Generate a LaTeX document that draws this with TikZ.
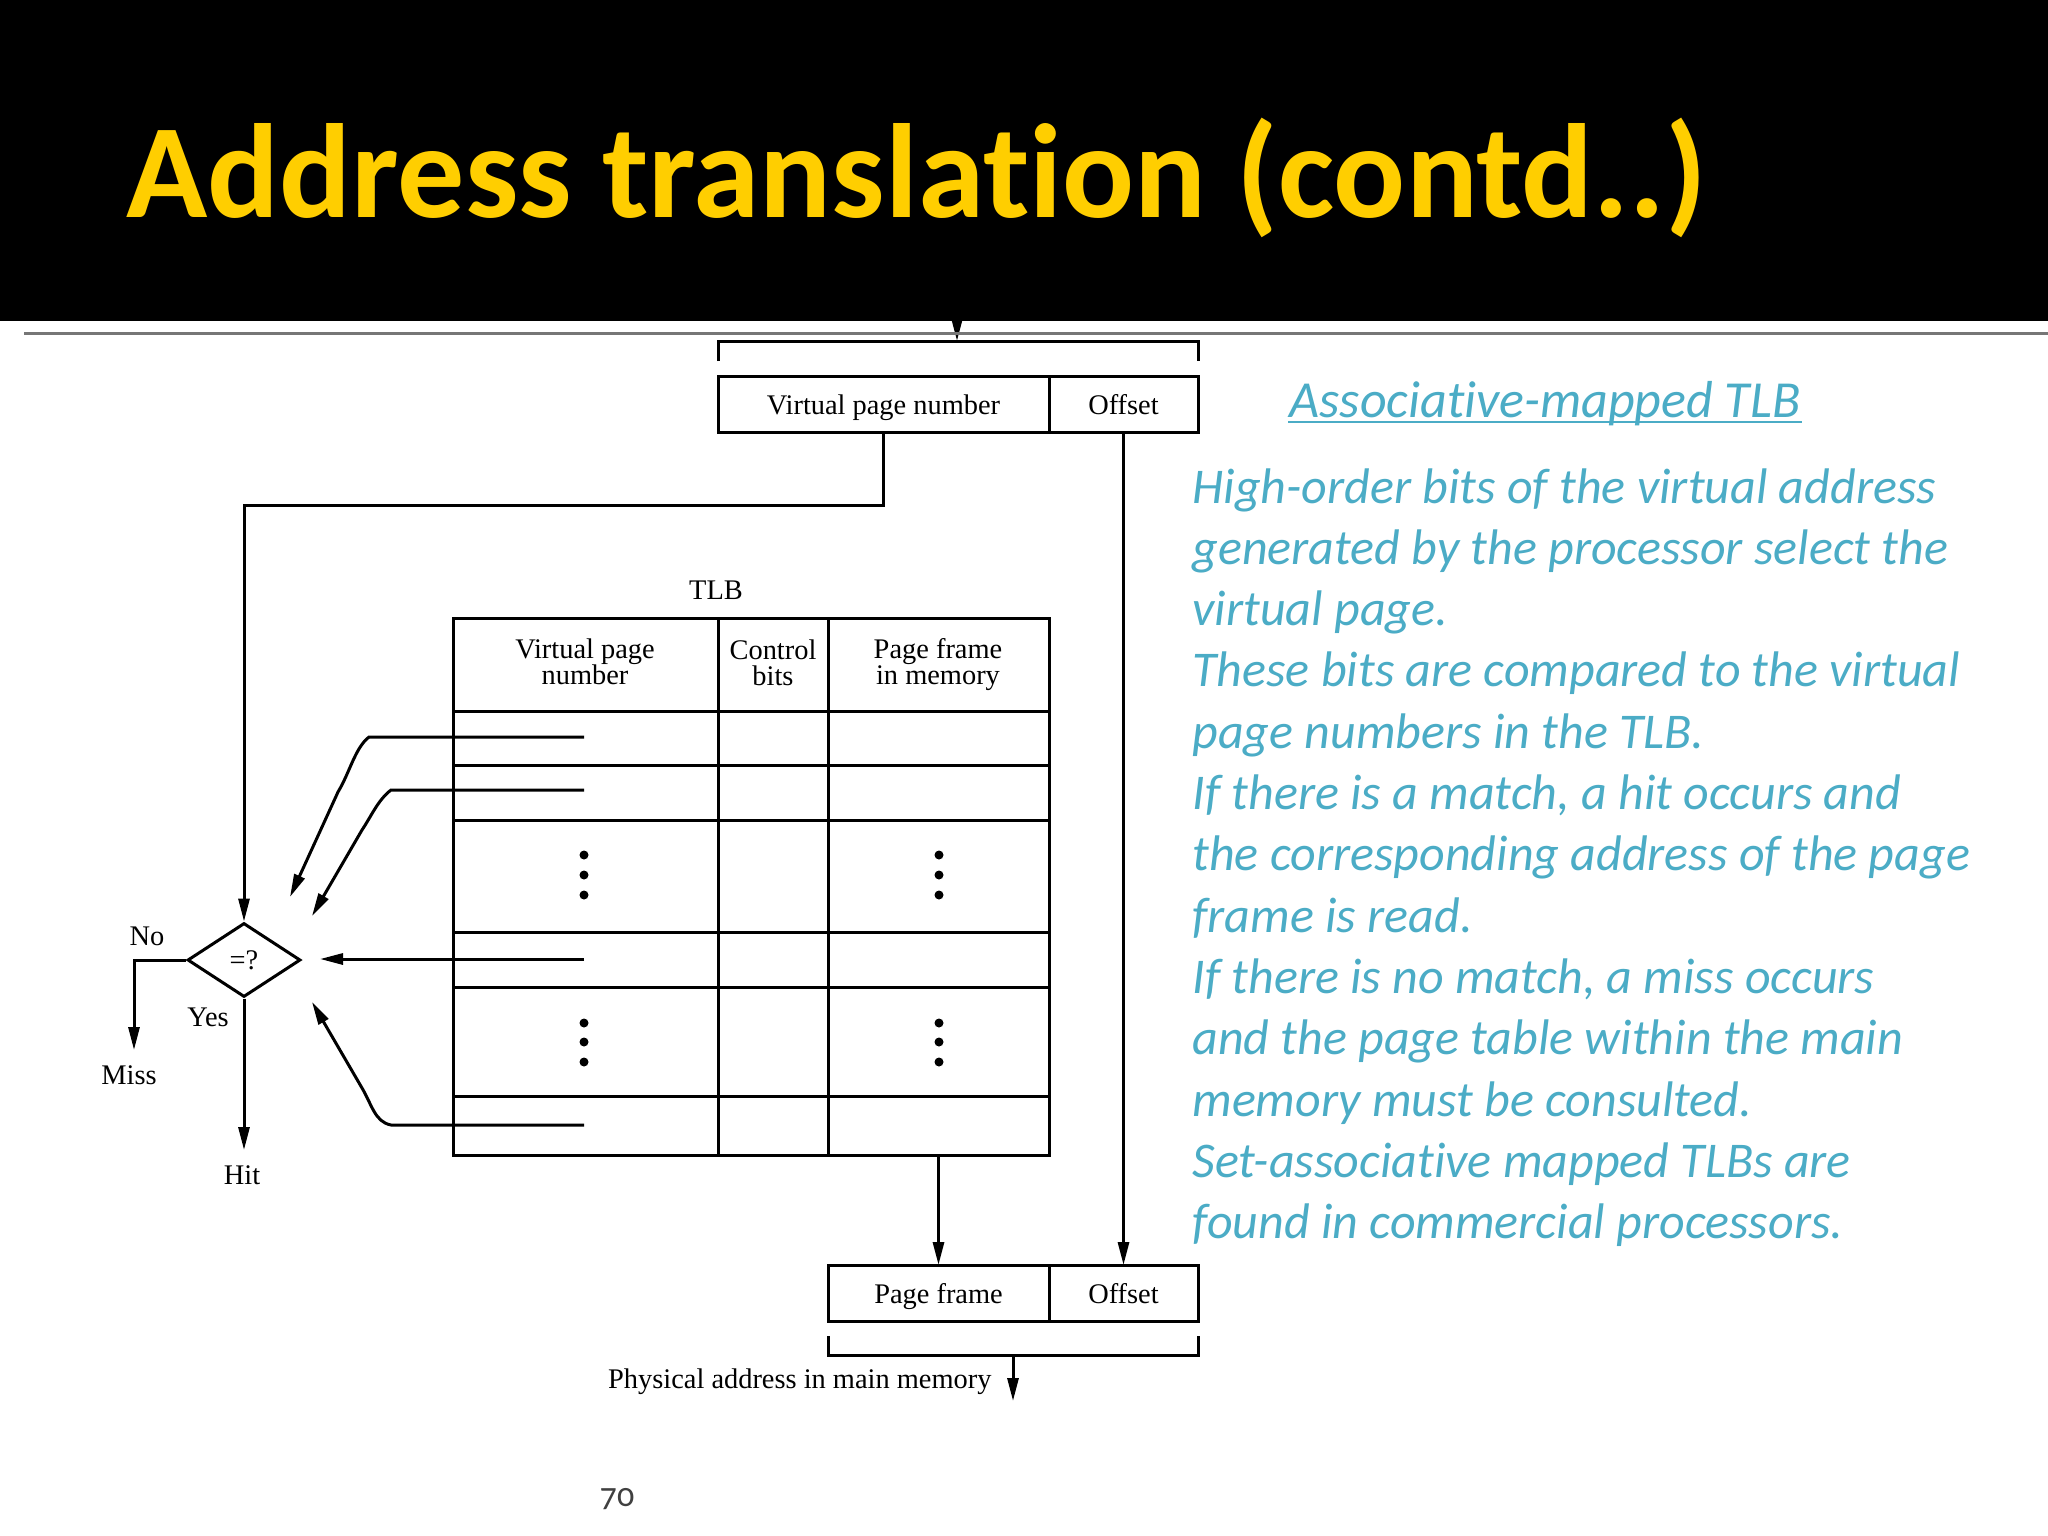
\documentclass[tikz,border=0pt]{standalone}
\usepackage{fontspec}
\setmainfont{Liberation Serif}
\newfontfamily\slidefont{Carlito}[Ligatures=NoCommon]
\usetikzlibrary{arrows.meta,calc,positioning,shapes.geometric}
\definecolor{titleyellow}{RGB}{255,206,0}
\definecolor{noteblue}{RGB}{75,172,198}
\definecolor{rulegray}{RGB}{118,118,118}
\definecolor{pagegray}{RGB}{64,64,64}

\begin{document}
\begin{tikzpicture}[
  x=1pt, y=-1pt,
  line width=3pt,
  font=\fontsize{28.4}{26}\selectfont,
  field/.style={draw, minimum height=56pt, inner sep=0pt, outer sep=0pt,
                text height=21pt, text depth=0pt},
  lbl/.style={inner sep=0pt},
  cmp/.style={draw, diamond, minimum width=113pt, minimum height=74pt, inner sep=0pt},
  arr/.style={-{Triangle[length=23pt,width=11pt]}},
  note/.style={text=noteblue, font=\slidefont\itshape\fontsize{50}{60}\selectfont, inner sep=0pt}]
\useasboundingbox (0,0) rectangle (2048,1536);
\fill[white] (0,0) rectangle (2048,1536);

% virtual address from the processor
\coordinate (vaddr) at (957,318);
\coordinate (brtop) at (957,341);
\draw[arr] (vaddr) -- (brtop);
\fill[black] (0,0) rectangle (2048,321);
\node[anchor=base west, inner sep=0pt, text=titleyellow,
  font=\slidefont\bfseries\fontsize{134}{134}\selectfont] (title) at (125,217)
  {Address translation (contd..)};
\draw[rulegray] (24,333) -- (2048,333);

\draw (718,361) -- (718,341) -- (1198,341) -- (1198,361);
\node[field, minimum width=331pt] (vpn) at (883.5,404) {Virtual page number};
\node[field, minimum width=149pt, right=0pt of vpn] (off) {Offset};

% TLB
\node[draw, minimum width=596pt, minimum height=537pt, outer sep=0pt] (tlb) at (751,886.5) {};
\node[lbl] (tlbname) at (716,590) {TLB};
\foreach \y in {711,765,820,932,987,1096}
  \draw (453,\y) -- (1049,\y);
\foreach \x in {718,828}
  \draw (\x,618) -- (\x,1155);
\node[lbl, align=center] (hvpn) at (585,662) {Virtual page\\number};
\node[lbl, align=center] (hctl) at (773,663) {Control\\bits};
\node[lbl, align=center] (hpf) at (938,665) {Page frame\\in memory};
\foreach \x in {584,939}
  \foreach \y in {855,875,895,1023,1042,1062}
    \fill (\x,\y) circle (4.5pt);

% comparator
\node[cmp] (cmp) at (244,960) {=?};
\coordinate (tap1) at (584,737);
\coordinate (tap2) at (584,790);
\coordinate (tap3) at (584,959);
\coordinate (tap4) at (584,1125);
\coordinate (in1) at (290,897);
\coordinate (in2) at (312,916);
\coordinate (in3) at (320,959);
\coordinate (in4) at (312,1002);
\draw[arr] (tap1) -- (369,737) .. controls (355,748) and (350,772) .. (338,792) -- (in1);
\draw[arr] (tap2) -- (391,790) .. controls (378,800) and (372,815) .. (362,830) -- (in2);
\draw[arr] (tap3) -- (in3);
\draw[arr] (tap4) -- (391,1125) .. controls (375,1122) and (372,1105) .. (362,1088) -- (in4);
\draw[arr] (vpn.south) -- ++(0,73) -| (cmp.north);

\coordinate (miss) at (134,1050);
\coordinate (hit) at (244,1150);
\draw[arr] (cmp.west) -| (miss);
\draw[arr] (cmp.south) -- (hit);
\node[lbl] at (147,936) {No};
\node[lbl] at (129,1075) {Miss};
\node[lbl] at (208,1017) {Yes};
\node[lbl] at (242,1175) {Hit};

% physical address
\node[field, minimum width=149pt] (off2) at (1123.5,1293) {Offset};
\node[field, minimum width=221pt, left=0pt of off2] (pf) {Page frame};
\draw[arr] (off.south) -- (off2.north);
\draw[arr] (tlb.south -| pf.north) -- (pf.north);
\draw ($(pf.south west)+(0,15)$) |- ($(off2.south east)+(0,34)$) -- ++(0,-19);
\coordinate (brbot) at (1013,1356);
\coordinate (paddr) at (1013,1401);
\draw[arr] (brbot) -- (paddr);
\node[lbl, anchor=east] at (993,1382) {Physical address in main memory};

% notes
\node[note, anchor=base, font=\slidefont\itshape\fontsize{52}{60}\selectfont] (head) at (1545,417) {Associative-mapped TLB};
\draw[noteblue, line width=2.5pt] ([yshift=-5pt]head.base west) -- ([yshift=-5pt]head.base east);
\foreach \line [count=\i from 0] in {
  {High-order bits of the virtual address},
  {generated by the processor select the},
  {virtual page.},
  {These bits are compared to the virtual},
  {page numbers in the TLB.},
  {If there is a match, a hit occurs and},
  {the corresponding address of the page},
  {frame is read.},
  {If there is no match, a miss occurs},
  {and the page table within the main},
  {memory must be consulted.},
  {Set-associative mapped TLBs are},
  {found in commercial processors.}}
  \node[note, anchor=base west] at (1191,503+61.3*\i) {\line};

\node[text=pagegray, inner sep=0pt, font=\slidefont\addfontfeatures{Numbers=OldStyle}\fontsize{34}{34}\selectfont] (pageno) at (617,1499) {70};
\end{tikzpicture}
\end{document}
